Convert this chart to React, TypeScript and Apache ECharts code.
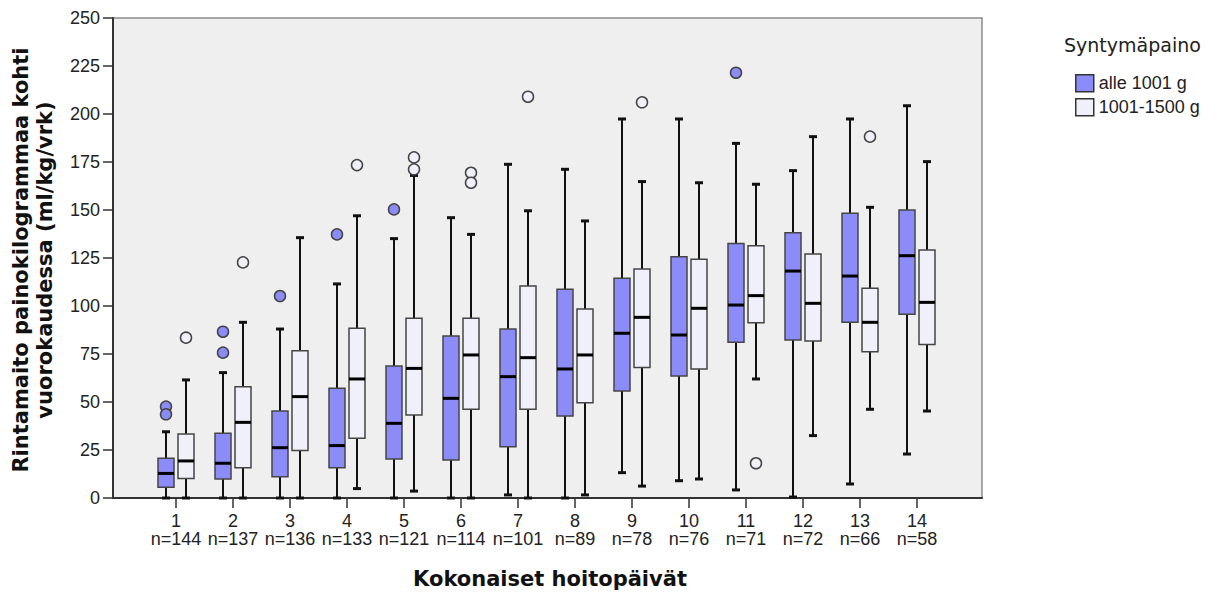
import React, { useEffect, useRef } from 'react';
import * as echarts from 'echarts';

const categories = ['1', '2', '3', '4', '5', '6', '7', '8', '9', '10', '11', '12', '13', '14'];
const counts = [144, 137, 136, 133, 121, 114, 101, 89, 78, 76, 71, 72, 66, 58];
const groupNames = ['alle 1001 g', '1001-1500 g'];
const legendTitle = 'Syntymäpaino';
const yTitle = 'Rintamaito painokilogrammaa kohti\nvuorokaudessa (ml/kg/vrk)';
const xTitle = 'Kokonaiset hoitopäivät';

// [min, Q1, median, Q3, max]
const lowStats = [
  [0, 5.6, 12.8, 20.7, 34.5],
  [0, 9.9, 18.1, 33.7, 65.3],
  [0, 11.1, 26.2, 45.3, 88],
  [0, 15.8, 27.3, 57.1, 111.5],
  [0, 20.3, 38.9, 68.8, 135.1],
  [0, 19.8, 51.9, 84.4, 146],
  [1.6, 26.7, 63.2, 88, 173.8],
  [0, 42.7, 67.2, 108.7, 171.2],
  [13.2, 55.7, 85.8, 114.4, 197.4],
  [9, 63.5, 84.9, 125.7, 197.4],
  [4.2, 81.1, 100.5, 132.6, 184.7],
  [0.5, 82.3, 118.2, 138.2, 170.5],
  [7.3, 91.5, 115.6, 148.3, 197.4],
  [22.9, 95.7, 126.2, 150, 204.3],
];
const highStats = [
  [0, 10.2, 19.3, 33.3, 61.5],
  [0, 15.8, 39.4, 58, 91.5],
  [0, 24.7, 52.8, 76.7, 135.6],
  [4.9, 31.1, 62, 88.4, 147],
  [3.6, 43.2, 67.5, 93.6, 168],
  [0, 46.2, 74.5, 93.6, 137.3],
  [0, 46.2, 73.1, 110.4, 149.6],
  [1.6, 49.6, 74.5, 98.4, 144.3],
  [6.2, 68, 94.1, 119.3, 164.8],
  [9.9, 67.2, 98.8, 124.3, 164.2],
  [62, 91.3, 105.4, 131.4, 163.4],
  [32.5, 81.8, 101.4, 127.1, 188.2],
  [46.2, 76.2, 91.5, 109.2, 151.4],
  [45.3, 80, 101.9, 129.2, 175.2],
];
// [category index, value]
const lowOutliers = [
  [0, 47.6], [0, 43.6], [1, 86.6], [1, 75.7], [2, 105.2], [3, 137.3], [4, 150.3], [10, 221.5],
];
const highOutliers = [
  [0, 83.5], [1, 122.7], [3, 173.4], [4, 171.2], [4, 177.4], [5, 169.4], [5, 164.2],
  [6, 209], [8, 206.1], [10, 18.1], [12, 188.2],
];

const LOW_FILL = '#8c8cf8';
const HIGH_FILL = '#f0f0fa';
const SANS = '"Liberation Sans", Arial, sans-serif';
const BOLD = '"DejaVu Sans", Verdana, sans-serif';

export default function App() {
  const ref = useRef<HTMLDivElement>(null);
  useEffect(() => {
    const chart = echarts.init(ref.current!, null, { renderer: 'svg' });
    const makeRender = (dx: number, fill: string) => (params: any, api: any) => {
      const x = api.value(0);
      const pMin = api.coord([x, api.value(1)]);
      const pQ1 = api.coord([x, api.value(2)]);
      const pMed = api.coord([x, api.value(3)]);
      const pQ3 = api.coord([x, api.value(4)]);
      const pMax = api.coord([x, api.value(5)]);
      const cx = pMed[0] + dx;
      const hw = 8;
      const cap = 4;
      const wl = { stroke: '#111', lineWidth: 2 };
      const cl = { stroke: '#111', lineWidth: 3 };
      return {
        type: 'group',
        children: [
          { type: 'line', shape: { x1: cx, y1: pQ3[1], x2: cx, y2: pMax[1] }, style: wl },
          { type: 'line', shape: { x1: cx, y1: pQ1[1], x2: cx, y2: pMin[1] }, style: wl },
          { type: 'line', shape: { x1: cx - cap, y1: pMax[1], x2: cx + cap, y2: pMax[1] }, style: cl },
          { type: 'line', shape: { x1: cx - cap, y1: pMin[1], x2: cx + cap, y2: pMin[1] }, style: cl },
          {
            type: 'rect',
            shape: { x: cx - hw, y: pQ3[1], width: hw * 2, height: pQ1[1] - pQ3[1] },
            style: { fill, stroke: '#454545', lineWidth: 1.5 },
          },
          {
            type: 'line',
            shape: { x1: cx - hw, y1: pMed[1], x2: cx + hw, y2: pMed[1] },
            style: { stroke: '#000', lineWidth: 3 },
          },
        ],
      };
    };

    const option: any = {
      animation: false,
      grid: [
        { left: 113, top: 18, width: 869, height: 480, show: true, backgroundColor: '#efefef', borderColor: '#8c8c8c', borderWidth: 1.5 },
        { left: 147.5, top: 18, width: 798, height: 480 },
      ],
      xAxis: [
        {
          gridIndex: 0, type: 'value', min: 0, max: 1,
          axisLine: { show: true, lineStyle: { color: '#333', width: 2 } },
          axisTick: { show: false }, axisLabel: { show: false }, splitLine: { show: false },
        },
        {
          gridIndex: 1, type: 'category',
          data: categories.map((c, i) => `${c}\nn=${counts[i]}`),
          axisLine: { show: false },
          axisTick: { show: true, alignWithLabel: true, length: 10, lineStyle: { color: '#333', width: 1.5 } },
          axisLabel: { fontSize: 18, lineHeight: 18, margin: 14, color: '#222', fontFamily: SANS, interval: 0 },
          splitLine: { show: false },
        },
      ],
      yAxis: [
        {
          gridIndex: 0, type: 'value', min: 0, max: 250, interval: 25,
          axisLine: { show: true, lineStyle: { color: '#333', width: 2 } },
          axisTick: { show: true, length: 10, lineStyle: { color: '#333', width: 1.5 } },
          axisLabel: { fontSize: 18, margin: 13, color: '#222', fontFamily: SANS },
          splitLine: { show: false },
        },
        { gridIndex: 1, type: 'value', min: 0, max: 250, show: false, splitLine: { show: false } },
      ],
      legend: {
        orient: 'vertical', left: 1070, top: 69, itemWidth: 18, itemHeight: 17, itemGap: 5.5,
        textStyle: { fontSize: 18, lineHeight: 18, color: '#222', fontFamily: SANS },
        data: [
          { name: groupNames[0], icon: 'rect', itemStyle: { color: LOW_FILL, borderColor: '#333', borderWidth: 1.5 } },
          { name: groupNames[1], icon: 'rect', itemStyle: { color: HIGH_FILL, borderColor: '#333', borderWidth: 1.5 } },
        ],
      },
      graphic: [
        {
          type: 'text', left: 1064, top: 35,
          style: { text: legendTitle, fontSize: 19, fontFamily: BOLD, fill: '#222' },
        },
        {
          type: 'text', x: 550, y: 579,
          style: { text: xTitle, fontSize: 21, fontWeight: 'bold', fontFamily: BOLD, fill: '#111', align: 'center', verticalAlign: 'middle' },
        },
        {
          type: 'text', x: 33, y: 260, rotation: Math.PI / 2,
          style: { text: yTitle, fontSize: 21, fontWeight: 'bold', fontFamily: BOLD, fill: '#111', align: 'center', verticalAlign: 'middle', lineHeight: 24 },
        },
      ],
      series: [
        {
          name: groupNames[0], type: 'custom', xAxisIndex: 1, yAxisIndex: 1,
          renderItem: makeRender(-10, LOW_FILL),
          itemStyle: { color: LOW_FILL },
          encode: { x: 0, y: [1, 2, 3, 4, 5] },
          data: lowStats.map((s, i) => [i, ...s]),
        },
        {
          name: groupNames[1], type: 'custom', xAxisIndex: 1, yAxisIndex: 1,
          renderItem: makeRender(10, HIGH_FILL),
          itemStyle: { color: HIGH_FILL },
          encode: { x: 0, y: [1, 2, 3, 4, 5] },
          data: highStats.map((s, i) => [i, ...s]),
        },
        {
          name: groupNames[0], type: 'scatter', xAxisIndex: 1, yAxisIndex: 1,
          symbol: 'circle', symbolSize: 11, symbolOffset: [-10, 0],
          itemStyle: { color: LOW_FILL, borderColor: '#444', borderWidth: 1.5, opacity: 1 },
          data: lowOutliers,
        },
        {
          name: groupNames[1], type: 'scatter', xAxisIndex: 1, yAxisIndex: 1,
          symbol: 'circle', symbolSize: 11, symbolOffset: [10, 0],
          itemStyle: { color: HIGH_FILL, borderColor: '#444', borderWidth: 1.5, opacity: 1 },
          data: highOutliers,
        },
      ],
    };
    chart.setOption(option);
    return () => chart.dispose();
  }, []);
  return <div ref={ref} style={{ position: 'fixed', left: 0, top: 0, width: 1220, height: 596, background: '#fff' }} />;
}
